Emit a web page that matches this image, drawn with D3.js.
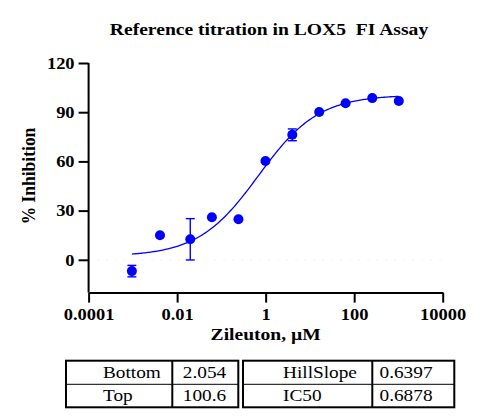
<!DOCTYPE html>
<html>
<head>
<meta charset="utf-8">
<script src="https://cdn.jsdelivr.net/npm/d3@7"></script>
<style>
html,body{margin:0;padding:0;background:#fff;}
svg{display:block;}
text{font-family:"Liberation Serif","Times New Roman",serif;}
</style>
</head>
<body>
<div id="chart"></div>
<script>
// ---- data ----
const concentrations = [0.00095, 0.0041, 0.0198, 0.061, 0.243, 0.99, 4.0, 16.2, 64, 256, 1020];
const inhibition     = [-6.9, 15.0, 12.5, 25.9, 24.7, 60.2, 76.2, 90.1, 95.5, 98.6, 96.8];
const errors         = [3.5, 0, 12.6, 0, 0, 0, 3.6, 0, 0, 0, 0];
const xTickValues = [1e-4, 1e-2, 1, 1e2, 1e4];
const xTickLabels = ["0.0001", "0.01", "1", "100", "10000"];
const yTickValues = [0, 30, 60, 90, 120];
const fitNames  = ["Bottom", "Top", "HillSlope", "IC50"];
const fitValues = ["2.054", "100.6", "0.6397", "0.6878"];
const fitBottom = 2.054, fitTop = 100.6, fitHill = 0.6397, fitIC50 = 0.6878;
const titleText = "Reference titration in LOX5  FI Assay";
const xTitle = "Zileuton, \u00B5M";
const yTitle = "% Inhibition";

// ---- layout ----
const W = 500, H = 420;
const SX = 1.12; // horizontal stretch of the reference lettering
const svg = d3.select("#chart").append("svg").attr("width", W).attr("height", H);
const x = d3.scaleLog().domain([1e-4, 1e4]).range([88.6, 442.7]);
const y = d3.scaleLinear().domain([-20, 120]).range([292.6, 63]);
const blue = "#0000ff";

function stretchedText(px, py, sx, txt, size, weight, anchor) {
  const g = svg.append("g").attr("transform", `translate(${px},${py}) scale(${sx},1)`);
  return g.append("text").attr("x", 0).attr("y", 0).attr("text-anchor", anchor || "start")
    .attr("font-size", size).attr("font-weight", weight || "normal")
    .style("white-space", "pre").attr("xml:space", "preserve").text(txt);
}

// title
stretchedText(269, 35, SX, titleText, 17.5, "bold", "middle");

// faint zero line
svg.append("line").attr("x1", x(1e-4)).attr("x2", x(1e4)).attr("y1", y(0)).attr("y2", y(0))
  .attr("stroke", "#e4e4e4").attr("stroke-width", 1).attr("stroke-dasharray", "1,8");

// axes
const xAxis = d3.axisBottom(x).tickValues(xTickValues)
  .tickFormat((d, i) => xTickLabels[i]).tickSize(10).tickSizeOuter(0).tickPadding(6);
const gx = svg.append("g").attr("transform", `translate(0,${y(-20)})`).call(xAxis);
const yAxis = d3.axisLeft(y).tickValues(yTickValues).tickSize(10).tickSizeOuter(0).tickPadding(4);
const gy = svg.append("g").attr("transform", `translate(${x(1e-4)},0)`).call(yAxis);
[gx, gy].forEach(g => {
  g.selectAll("path").attr("stroke", "#000").attr("stroke-width", 2);
  g.selectAll("line").attr("stroke", "#000").attr("stroke-width", 2);
  g.selectAll("text").attr("font-family", "Liberation Serif, Times New Roman, serif")
    .attr("font-size", 16.5).attr("font-weight", "bold").attr("fill", "#000");
});
gx.selectAll("text").attr("transform", `scale(${SX},1)`);
gy.selectAll("text").attr("transform", `translate(-14,0) scale(${SX},1) translate(14,0)`);
gy.select("path").attr("d", `M0,${y(120)}V${y(-20)}`);

// axis titles
stretchedText(265.6, 340, 1.15, xTitle, 17, "bold", "middle");
svg.append("text").attr("transform", `translate(35,176) scale(${SX},1) rotate(-90)`).attr("text-anchor", "middle")
  .attr("font-size", 17.5).attr("font-weight", "bold").text(yTitle);

// fitted curve
const lx0 = Math.log10(d3.min(concentrations)), lx1 = Math.log10(d3.max(concentrations));
const curvePts = d3.range(0, 201).map(i => {
  const c = Math.pow(10, lx0 + (lx1 - lx0) * i / 200);
  return [c, fitBottom + (fitTop - fitBottom) / (1 + Math.pow(fitIC50 / c, fitHill))];
});
svg.append("path").datum(curvePts)
  .attr("d", d3.line().x(d => x(d[0])).y(d => y(d[1])))
  .attr("fill", "none").attr("stroke", blue).attr("stroke-width", 1.3);

// error bars
const eb = svg.append("g").attr("stroke", blue).attr("stroke-width", 1.4);
concentrations.forEach((c, i) => {
  if (!errors[i]) return;
  const cx = x(c), y1 = y(inhibition[i] + errors[i]), y2 = y(inhibition[i] - errors[i]);
  eb.append("line").attr("x1", cx).attr("x2", cx).attr("y1", y1).attr("y2", y2);
  eb.append("line").attr("x1", cx - 4.5).attr("x2", cx + 4.5).attr("y1", y1).attr("y2", y1);
  eb.append("line").attr("x1", cx - 4.5).attr("x2", cx + 4.5).attr("y1", y2).attr("y2", y2);
});

// points
svg.append("g").selectAll("circle").data(concentrations).join("circle")
  .attr("cx", d => x(d)).attr("cy", (d, i) => y(inhibition[i])).attr("r", 5).attr("fill", blue);

// parameter tables
const tables = [
  {x0: 66, xd: 172.3, x1: 238.3, lx: 103, vx: 204.5, rows: [0, 1]},
  {x0: 243, xd: 372.3, x1: 454.3, lx: 283, vx: 406, rows: [2, 3]}
];
const ty0 = 360.7, tym = 384.3, ty1 = 407.3;
tables.forEach(t => {
  const g = svg.append("g");
  g.append("rect").attr("x", t.x0).attr("y", ty0).attr("width", t.x1 - t.x0).attr("height", ty1 - ty0)
    .attr("fill", "none").attr("stroke", "#000").attr("stroke-width", 2);
  g.append("line").attr("x1", t.xd).attr("x2", t.xd).attr("y1", ty0).attr("y2", ty1)
    .attr("stroke", "#000").attr("stroke-width", 2);
  g.append("line").attr("x1", t.x0).attr("x2", t.x1).attr("y1", tym).attr("y2", tym)
    .attr("stroke", "#000").attr("stroke-width", 1);
  t.rows.forEach((r, k) => {
    const by = k === 0 ? 377.5 : 401;
    stretchedText(t.lx, by, 1.17, fitNames[r], 16.5, "normal", "start");
    stretchedText(t.vx, by, 1.17, fitValues[r], 16.5, "normal", "middle");
  });
});
</script>
</body>
</html>
